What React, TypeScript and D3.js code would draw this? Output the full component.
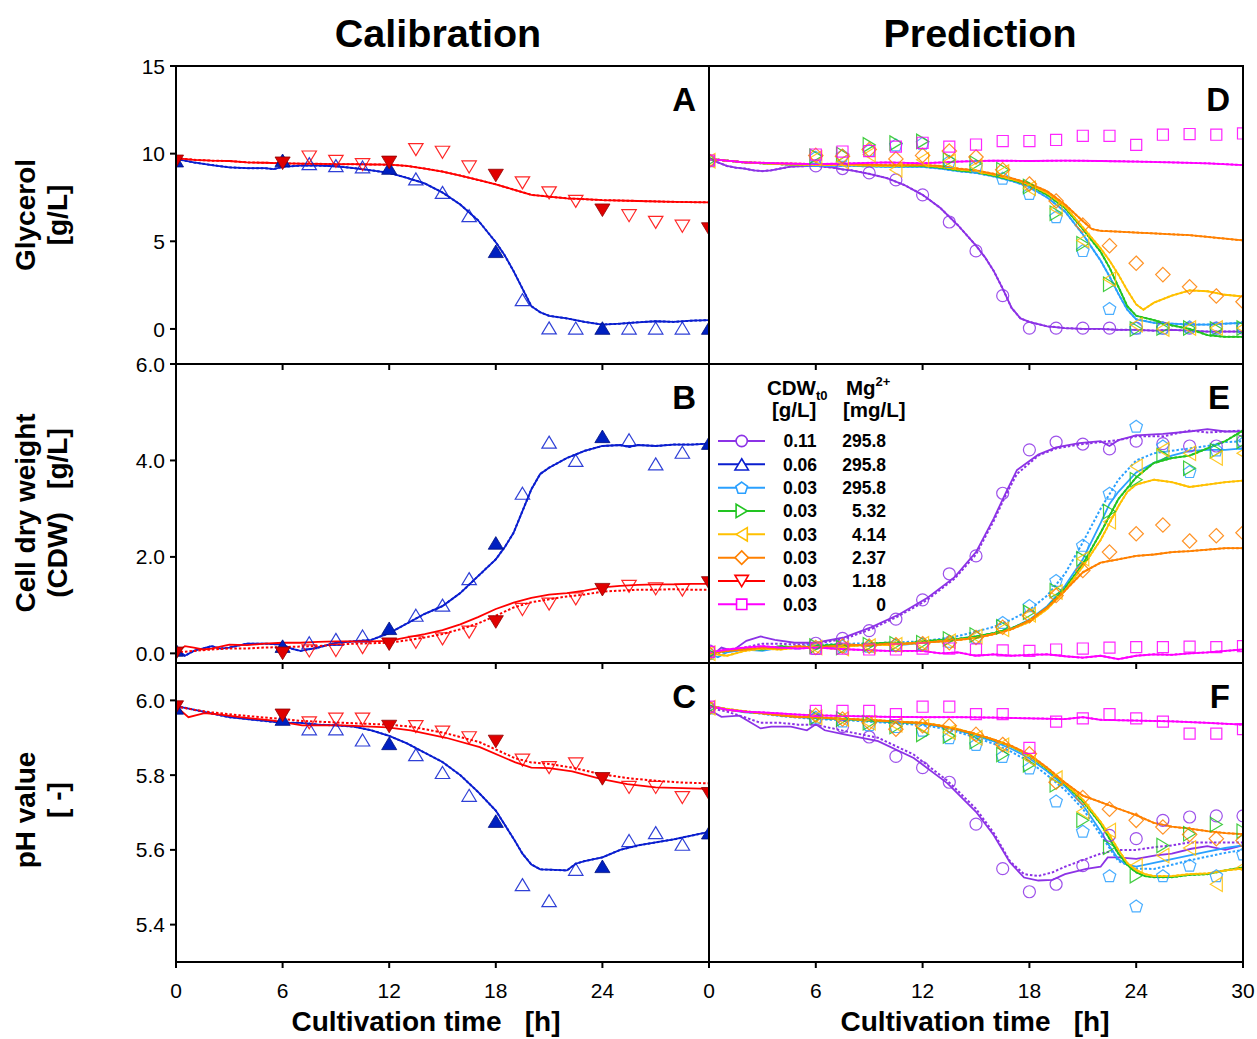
import React from "react";
import * as d3 from "d3";

// sampling times [h]; filled markers in calibration panels at the calibration times
const sampleTimes = [0, 6, 7.5, 9, 10.5, 12, 13.5, 15, 16.5, 18, 19.5, 21, 22.5, 24, 25.5, 27, 28.5, 30];
const calibTimes = [0, 6, 12, 18, 24, 30];

const xTicks = [0, 6, 12, 18, 24, 30];
const glycTicks = [0, 5, 10, 15];
const cdwTicks = [0, 2, 4, 6];
const phTicks = [5.4, 5.6, 5.8, 6.0];

const legendCdw = ["0.11", "0.06", "0.03", "0.03", "0.03", "0.03", "0.03", "0.03"];
const legendMg = ["295.8", "295.8", "295.8", "5.32", "4.14", "2.37", "1.18", "0"];

// ---------- calibration (0.06 g/L / 295.8 mg/L = blue, 0.03 / 1.18 = red)
const blueGlycObs = [9.6, 9.62, 9.43, 9.32, 9.24, 9.18, 8.56, 7.79, 6.46, 4.43, 1.67, 0.06, 0.05, 0.05, 0.05, 0.05, 0.05, 0.05];
const redGlycObs = [9.56, 9.45, 9.81, 9.56, 9.37, 9.5, 10.23, 10.08, 9.24, 8.75, 8.33, 7.76, 7.28, 6.77, 6.46, 6.08, 5.86, 5.7];
const blueGlycSim: [number, number][] = [[0, 9.7], [0.5, 9.6], [1, 9.5], [2, 9.35], [3, 9.22], [4, 9.17], [5, 9.17], [5.5, 9.12], [6, 9.25], [7, 9.32], [8, 9.32], [9, 9.28], [10, 9.18], [11, 9.05], [12, 8.9], [13, 8.62], [14, 8.3], [15, 7.78], [16, 7.1], [17, 6.2], [18, 4.95], [18.5, 4.2], [19, 3.3], [19.5, 2.3], [20, 1.3], [20.5, 0.95], [21, 0.75], [22, 0.6], [23, 0.4], [24, 0.25], [25, 0.3], [26, 0.38], [27, 0.44], [28, 0.4], [29, 0.47], [30, 0.5]];
const redGlycSim: [number, number][] = [[0, 9.75], [1, 9.65], [2, 9.6], [3, 9.58], [4, 9.5], [5, 9.48], [6, 9.45], [7, 9.43], [8, 9.42], [9, 9.4], [10, 9.4], [11, 9.38], [12, 9.37], [13, 9.3], [14, 9.15], [15, 8.98], [16, 8.75], [17, 8.5], [18, 8.25], [19, 7.95], [20, 7.65], [21, 7.55], [22, 7.45], [23, 7.4], [24, 7.35], [26, 7.3], [28, 7.25], [30, 7.22]];

const blueCdwObs = [0.07, 0.15, 0.22, 0.29, 0.36, 0.52, 0.79, 1.0, 1.55, 2.29, 3.32, 4.38, 4.0, 4.5, 4.43, 3.93, 4.17, 4.36];
const redCdwObs = [0.0, 0.0, 0.05, 0.06, 0.12, 0.19, 0.23, 0.3, 0.44, 0.65, 0.91, 1.02, 1.13, 1.32, 1.39, 1.34, 1.31, 1.46];
const blueCdwSim: [number, number][] = [[0, 0.1], [0.5, -0.05], [1, 0.05], [2, 0.15], [2.5, 0.1], [3, 0.12], [4, 0.2], [5, 0.2], [6, 0.18], [6.5, 0.1], [7, 0.05], [8, 0.12], [9, 0.22], [10, 0.25], [11, 0.28], [12, 0.42], [13, 0.62], [14, 0.82], [15, 0.98], [16, 1.25], [17, 1.6], [18, 1.95], [18.5, 2.2], [19, 2.5], [19.5, 2.95], [20, 3.4], [20.5, 3.72], [21, 3.85], [22, 4.05], [23, 4.2], [24, 4.3], [25, 4.32], [25.5, 4.28], [26, 4.32], [27, 4.3], [28, 4.33], [29, 4.33], [30, 4.35]];
const redCdwSim: [number, number][] = [[0, 0.0], [0.5, 0.15], [1, 0.12], [1.5, 0.08], [2, 0.1], [3, 0.18], [4, 0.17], [5, 0.2], [6, 0.22], [7, 0.22], [8, 0.24], [9, 0.25], [10, 0.25], [11, 0.25], [12, 0.26], [13, 0.33], [14, 0.4], [15, 0.48], [16, 0.6], [17, 0.75], [18, 0.92], [19, 1.05], [20, 1.15], [21, 1.22], [22, 1.25], [23, 1.3], [24, 1.37], [25, 1.4], [26, 1.42], [27, 1.43], [28, 1.43], [29, 1.44], [30, 1.44]];
const redCdwSim2: [number, number][] = [[0, 0.02], [1, 0.05], [2, 0.08], [3, 0.1], [4, 0.1], [5, 0.12], [6, 0.13], [7, 0.14], [8, 0.15], [9, 0.18], [10, 0.2], [11, 0.21], [12, 0.22], [13, 0.27], [14, 0.33], [15, 0.4], [16, 0.5], [17, 0.62], [18, 0.78], [19, 0.95], [20, 1.06], [21, 1.12], [22, 1.18], [23, 1.22], [24, 1.28], [25, 1.3], [26, 1.32], [27, 1.32], [28, 1.33], [29, 1.32], [30, 1.32]];

const bluePhObs = [5.98, 5.95, 5.924, 5.924, 5.894, 5.885, 5.855, 5.807, 5.746, 5.677, 5.507, 5.464, 5.548, 5.556, 5.625, 5.646, 5.615, 5.646];
const redPhObs = [5.982, 5.96, 5.94, 5.95, 5.95, 5.93, 5.93, 5.915, 5.9, 5.89, 5.84, 5.82, 5.83, 5.79, 5.767, 5.767, 5.74, 5.75];
const bluePhSim: [number, number][] = [[0, 5.985], [0.5, 5.98], [1, 5.975], [2, 5.965], [3, 5.955], [4, 5.95], [5, 5.945], [6, 5.94], [7, 5.94], [8, 5.935], [9, 5.933], [10, 5.93], [11, 5.92], [12, 5.905], [13, 5.885], [14, 5.86], [15, 5.835], [16, 5.8], [17, 5.755], [18, 5.705], [19, 5.63], [19.5, 5.59], [20, 5.561], [20.5, 5.548], [21, 5.547], [22, 5.545], [22.5, 5.563], [23, 5.57], [24, 5.58], [25, 5.6], [26, 5.612], [27, 5.62], [28, 5.628], [29, 5.638], [30, 5.648]];
const redPhSim: [number, number][] = [[0, 5.984], [0.7, 5.955], [1.6, 5.966], [2.5, 5.962], [3.6, 5.955], [5.5, 5.946], [7.1, 5.933], [9.4, 5.933], [11.9, 5.928], [13.2, 5.92], [15.2, 5.9], [17.1, 5.875], [19.1, 5.834], [20, 5.82], [21, 5.819], [22.3, 5.81], [23.9, 5.79], [25.4, 5.776], [27, 5.767], [28.5, 5.765], [30, 5.763]];
const redPhSim2: [number, number][] = [[0, 5.984], [1, 5.975], [2, 5.968], [3.6, 5.96], [5.5, 5.952], [7.1, 5.945], [9.4, 5.94], [11.9, 5.935], [13.2, 5.93], [15.2, 5.912], [17.1, 5.888], [19.1, 5.845], [20, 5.834], [21, 5.83], [22.3, 5.82], [23.9, 5.803], [25.4, 5.792], [27, 5.785], [28.5, 5.78], [30, 5.778]];

// ---------- prediction, glycerol
const purpleGlycObs = [9.6, 9.3, 9.15, 8.9, 8.5, 7.65, 6.1, 4.45, 1.9, 0.05, 0.05, 0.05, 0.05, 0.05, 0.05, 0.05, 0.05, 0.05];
const lblueGlycObs = [9.6, 9.8, 9.9, 10.2, 10.5, 10.6, 9.55, 9.27, 8.6, 7.73, 6.4, 4.47, 1.17, 0.05, 0.05, 0.12, 0.05, 0.12];
const greenGlycObs = [9.6, 9.85, 9.95, 10.5, 10.6, 10.7, 9.65, 9.45, 9.08, 8.12, 6.6, 4.86, 2.55, 0.0, 0.05, 0.05, 0.0, 0.05];
const yellowGlycObs = [9.6, 9.75, 9.55, 9.95, 9.08, 9.65, 9.55, 9.25, 8.95, 8.02, 6.85, 5.05, 2.84, 0.24, 0.0, 0.05, 0.05, 0.05];
const orangeGlycObs = [9.6, 9.9, 9.85, 10.23, 9.7, 9.9, 10.15, 9.81, 9.08, 8.27, 7.3, 5.92, 4.75, 3.75, 3.1, 2.4, 1.88, 1.55];
const magentaGlycObs = [9.6, 9.95, 10.12, 10.15, 10.4, 10.62, 10.4, 10.52, 10.72, 10.72, 10.78, 11.02, 11.02, 10.5, 11.08, 11.12, 11.08, 11.15];
const purpleGlycSim: [number, number][] = [[0, 9.7], [0.5, 9.5], [1, 9.3], [1.5, 9.2], [2, 9.15], [2.5, 9.05], [3, 9.0], [3.5, 9.05], [4, 9.15], [4.5, 9.25], [5, 9.28], [6, 9.3], [7, 9.2], [7.5, 9.1], [8, 9.05], [9, 8.85], [10, 8.6], [11, 8.2], [12, 7.65], [13, 6.9], [14, 5.9], [15, 4.75], [15.5, 4.1], [16, 3.3], [16.5, 2.3], [17, 1.2], [17.5, 0.6], [18, 0.4], [19, 0.15], [20, 0.05], [21, 0.0], [22, 0.0], [23, -0.05], [24, -0.05], [25, -0.1], [26, -0.05], [27, -0.1], [28, -0.15], [29, -0.15], [30, -0.15]];
const lblueGlycSim: [number, number][] = [[0, 9.7], [2, 9.5], [4, 9.4], [6, 9.3], [8, 9.3], [10, 9.25], [12, 9.25], [13, 9.15], [14, 9.0], [15, 8.9], [16, 8.7], [17, 8.45], [18, 8.1], [19, 7.5], [20, 6.7], [21, 5.4], [22, 3.9], [22.5, 3.0], [23, 2.0], [23.5, 1.1], [24, 0.55], [25, 0.35], [26, 0.3], [27, 0.25], [28, 0.25], [29, 0.3], [30, 0.35]];
const greenGlycSim: [number, number][] = [[0, 9.7], [2, 9.5], [4, 9.4], [6, 9.35], [8, 9.35], [10, 9.3], [12, 9.3], [13, 9.2], [14, 9.05], [15, 8.95], [16, 8.75], [17, 8.5], [18, 8.2], [19, 7.65], [20, 6.9], [21, 5.7], [22, 4.4], [22.5, 3.5], [23, 2.4], [23.5, 1.3], [24, 0.75], [25, 0.5], [26, 0.2], [27, 0.0], [28, -0.35], [29, -0.45], [30, -0.45]];
const yellowGlycSim: [number, number][] = [[0, 9.7], [2, 9.5], [4, 9.4], [6, 9.35], [8, 9.35], [10, 9.3], [12, 9.35], [13, 9.25], [14, 9.1], [15, 9.0], [16, 8.8], [17, 8.55], [18, 8.25], [19, 7.75], [20, 7.0], [21, 5.8], [22, 4.6], [22.5, 3.9], [23, 3.1], [23.5, 2.2], [24, 1.4], [24.4, 1.1], [25, 1.5], [26, 1.9], [27, 2.2], [28, 2.15], [29, 1.95], [30, 1.85]];
const orangeGlycSim: [number, number][] = [[0, 9.7], [2, 9.5], [4, 9.45], [6, 9.4], [8, 9.4], [10, 9.35], [12, 9.35], [13, 9.3], [14, 9.15], [15, 9.05], [16, 8.85], [17, 8.6], [18, 8.3], [19, 7.85], [20, 7.1], [21, 6.15], [21.5, 5.7], [22, 5.6], [23, 5.55], [24, 5.5], [25, 5.45], [26, 5.4], [27, 5.35], [28, 5.25], [29, 5.15], [30, 5.05]];
const magentaGlycSim: [number, number][] = [[0, 9.7], [2, 9.5], [4, 9.45], [6, 9.4], [8, 9.45], [10, 9.5], [12, 9.45], [14, 9.55], [16, 9.6], [18, 9.58], [20, 9.6], [22, 9.58], [24, 9.55], [26, 9.5], [28, 9.45], [30, 9.35]];

// ---------- prediction, cell dry weight
const purpleCdwObs = [0.05, 0.21, 0.31, 0.47, 0.71, 1.11, 1.65, 2.02, 3.32, 4.22, 4.38, 4.34, 4.24, 4.4, 4.35, 4.3, 4.3, 4.4];
const lblueCdwObs = [0.0, 0.1, 0.15, 0.15, 0.18, 0.2, 0.25, 0.33, 0.64, 0.99, 1.51, 2.24, 3.32, 4.71, 4.3, 3.77, 4.22, 4.36];
const greenCdwObs = [0.0, 0.15, 0.12, 0.18, 0.2, 0.22, 0.3, 0.38, 0.55, 0.85, 1.3, 1.96, 2.94, 3.6, 4.1, 3.84, 4.2, 4.4];
const yellowCdwObs = [0.0, 0.12, 0.1, 0.15, 0.18, 0.2, 0.25, 0.35, 0.5, 0.8, 1.27, 1.96, 2.73, 3.88, 4.22, 4.15, 4.05, 4.15];
const orangeCdwObs = [0.0, 0.12, 0.15, 0.15, 0.18, 0.2, 0.22, 0.33, 0.54, 0.78, 1.2, 1.72, 2.1, 2.48, 2.66, 2.33, 2.44, 2.5];
const magentaCdwObs = [0.03, 0.1, 0.1, 0.08, 0.08, 0.1, 0.1, 0.08, 0.06, 0.05, 0.08, 0.1, 0.12, 0.13, 0.13, 0.14, 0.13, 0.15];
const purpleCdwSim: [number, number][] = [[0, -0.1], [0.7, 0.12], [1.3, 0.05], [2.1, 0.26], [2.9, 0.35], [3.7, 0.28], [4.8, 0.22], [6, 0.22], [7.6, 0.33], [9.1, 0.54], [10.7, 0.81], [12.3, 1.16], [13.8, 1.58], [15, 2.1], [16, 2.8], [16.7, 3.35], [17.3, 3.8], [18.5, 4.12], [19.5, 4.27], [20.8, 4.36], [22, 4.4], [22.5, 4.3], [23, 4.42], [24, 4.52], [25.5, 4.55], [27, 4.6], [28, 4.65], [29, 4.6], [30, 4.6]];
const purpleCdwSim2: [number, number][] = [[0, -0.05], [1, 0.05], [2, 0.12], [3, 0.2], [4, 0.2], [5, 0.18], [6, 0.2], [7.6, 0.3], [9.1, 0.5], [10.7, 0.78], [12.3, 1.12], [13.8, 1.55], [15, 2.05], [16, 2.75], [16.7, 3.3], [17.3, 3.72], [18.5, 4.1], [19.5, 4.25], [20.8, 4.33], [22, 4.38], [23, 4.42], [24, 4.5], [25.5, 4.5], [27, 4.62], [28, 4.58], [29, 4.6], [30, 4.62]];
const lblueCdwSim: [number, number][] = [[0, 0.0], [0.5, -0.08], [1, 0.02], [2, 0.08], [3, 0.05], [4, 0.12], [5, 0.1], [6, 0.15], [7, 0.12], [8, 0.18], [9, 0.15], [10, 0.2], [11, 0.18], [12, 0.22], [13, 0.25], [14, 0.3], [15, 0.35], [16, 0.42], [17, 0.52], [18, 0.7], [19, 0.98], [20, 1.4], [21, 1.95], [22, 2.7], [22.5, 3.1], [23, 3.35], [24, 3.75], [25, 3.95], [26, 4.1], [27, 4.2], [28, 4.22], [29, 4.22], [30, 4.25]];
const lblueCdwSim2: [number, number][] = [[0, 0.0], [2, 0.08], [4, 0.12], [6, 0.18], [8, 0.2], [10, 0.22], [12, 0.25], [13, 0.3], [14, 0.36], [15, 0.45], [16, 0.55], [17, 0.7], [18, 0.9], [19, 1.2], [20, 1.65], [21, 2.3], [22, 3.0], [23, 3.6], [24, 4.0], [25, 4.15], [26, 4.2], [27, 4.25], [28, 4.3], [29, 4.38], [30, 4.4]];
const greenCdwSim: [number, number][] = [[0, 0.0], [1, 0.05], [2, 0.1], [3, 0.08], [4, 0.15], [5, 0.12], [6, 0.15], [7, 0.18], [8, 0.15], [9, 0.2], [10, 0.22], [11, 0.2], [12, 0.25], [13, 0.28], [14, 0.3], [15, 0.35], [16, 0.42], [17, 0.52], [18, 0.68], [19, 0.95], [20, 1.35], [21, 1.85], [22, 2.5], [22.5, 2.85], [23, 3.2], [24, 3.65], [25, 3.95], [26, 4.05], [27, 4.1], [28, 4.25], [29, 4.4], [30, 4.62]];
const yellowCdwSim: [number, number][] = [[0, 0.0], [1, -0.05], [2, 0.05], [3, 0.1], [4, 0.08], [5, 0.12], [6, 0.13], [7, 0.1], [8, 0.15], [9, 0.18], [10, 0.17], [11, 0.2], [12, 0.22], [13, 0.25], [14, 0.28], [15, 0.32], [16, 0.4], [17, 0.5], [18, 0.65], [19, 0.92], [20, 1.3], [21, 1.8], [22, 2.35], [22.5, 2.7], [23, 3.05], [23.5, 3.35], [24, 3.5], [25, 3.6], [26, 3.55], [27, 3.45], [28, 3.5], [29, 3.55], [30, 3.58]];
const orangeCdwSim: [number, number][] = [[0, 0.0], [1, 0.05], [2, 0.08], [3, 0.12], [4, 0.1], [5, 0.15], [6, 0.12], [7, 0.15], [8, 0.18], [9, 0.16], [10, 0.2], [11, 0.2], [12, 0.22], [13, 0.25], [14, 0.28], [15, 0.32], [16, 0.4], [17, 0.5], [18, 0.68], [19, 0.95], [20, 1.3], [21, 1.68], [22, 1.88], [23, 1.95], [24, 2.02], [25, 2.05], [26, 2.1], [27, 2.12], [28, 2.15], [29, 2.18], [30, 2.18]];
const magentaCdwSim: [number, number][] = [[0, 0.02], [1, 0.08], [2, 0.12], [3, 0.15], [4, 0.12], [5, 0.1], [6, 0.12], [8, 0.08], [10, 0.05], [12, 0.05], [13, 0.0], [14, 0.02], [15, -0.05], [16, -0.02], [17, -0.05], [18, -0.03], [19, -0.02], [20, -0.06], [21, -0.09], [22, -0.05], [23, -0.12], [24, -0.05], [25, -0.02], [26, -0.03], [27, 0.0], [28, 0.02], [29, 0.05], [30, 0.08]];

// ---------- prediction, pH
const purplePhObs = [5.98, 5.95, 5.93, 5.902, 5.85, 5.82, 5.781, 5.669, 5.55, 5.488, 5.508, 5.558, 5.639, 5.63, 5.679, 5.688, 5.691, 5.691];
const lbluePhObs = [5.98, 5.955, 5.945, 5.935, 5.93, 5.92, 5.9, 5.882, 5.85, 5.819, 5.731, 5.65, 5.531, 5.45, 5.531, 5.559, 5.531, 5.589];
const greenPhObs = [5.98, 5.955, 5.95, 5.94, 5.93, 5.909, 5.905, 5.89, 5.855, 5.828, 5.774, 5.679, 5.607, 5.531, 5.612, 5.643, 5.668, 5.65];
const yellowPhObs = [5.98, 5.955, 5.95, 5.94, 5.935, 5.93, 5.915, 5.9, 5.88, 5.844, 5.792, 5.702, 5.652, 5.558, 5.585, 5.605, 5.508, 5.553];
const orangePhObs = [5.98, 5.96, 5.95, 5.94, 5.923, 5.932, 5.932, 5.909, 5.882, 5.857, 5.781, 5.74, 5.709, 5.679, 5.661, 5.641, 5.63, 5.625];
const magentaPhObs = [5.983, 5.972, 5.972, 5.972, 5.963, 5.983, 5.983, 5.963, 5.963, 5.873, 5.943, 5.952, 5.963, 5.952, 5.943, 5.911, 5.911, 5.923];
const purplePhSim: [number, number][] = [[0, 5.975], [0.7, 5.956], [1.7, 5.959], [2.9, 5.925], [3.5, 5.93], [4.6, 5.93], [5.5, 5.92], [6, 5.936], [6.5, 5.92], [7.6, 5.909], [9.5, 5.891], [11.5, 5.846], [13.4, 5.778], [15, 5.702], [16, 5.639], [16.9, 5.567], [17.7, 5.526], [18.5, 5.518], [19.3, 5.52], [20, 5.535], [21.2, 5.549], [22, 5.555], [22.4, 5.58], [23, 5.58], [24, 5.576], [25.1, 5.585], [26, 5.59], [27.1, 5.603], [28, 5.61], [29, 5.6], [30, 5.612]];
const purplePhSim2: [number, number][] = [[0, 5.98], [1, 5.97], [2, 5.955], [2.9, 5.94], [4, 5.94], [5, 5.935], [6, 5.935], [7.6, 5.918], [9.5, 5.9], [11.5, 5.855], [13.4, 5.785], [15, 5.71], [16, 5.645], [16.9, 5.57], [17.7, 5.535], [18.5, 5.53], [19.3, 5.54], [20, 5.555], [21.2, 5.576], [22, 5.59], [23, 5.6], [24, 5.6], [25, 5.607], [26, 5.612], [27, 5.62], [28, 5.62], [29, 5.62], [30, 5.62]];
const lbluePhSim: [number, number][] = [[0, 5.985], [1, 5.975], [2, 5.968], [3, 5.965], [4, 5.96], [5, 5.955], [6, 5.952], [7, 5.95], [8, 5.948], [9, 5.945], [10, 5.942], [11, 5.94], [12, 5.937], [13, 5.93], [14, 5.92], [15, 5.905], [16, 5.89], [17, 5.87], [18, 5.845], [19, 5.81], [20, 5.77], [21, 5.72], [21.5, 5.685], [22, 5.65], [22.5, 5.61], [23, 5.575], [23.5, 5.56], [24, 5.555], [25, 5.565], [26, 5.575], [27, 5.585], [28, 5.595], [29, 5.605], [30, 5.612]];
const lbluePhSim2: [number, number][] = [[0, 5.985], [2, 5.97], [4, 5.958], [6, 5.95], [8, 5.946], [10, 5.94], [12, 5.934], [13, 5.926], [14, 5.915], [15, 5.9], [16, 5.884], [17, 5.862], [18, 5.836], [19, 5.8], [20, 5.76], [21, 5.71], [22, 5.64], [23, 5.57], [24, 5.55], [25, 5.549], [26, 5.56], [27, 5.572], [28, 5.582], [29, 5.592], [30, 5.6]];
const greenPhSim: [number, number][] = [[0, 5.985], [1, 5.976], [2, 5.97], [3, 5.966], [4, 5.96], [5, 5.956], [6, 5.954], [7, 5.951], [8, 5.949], [9, 5.946], [10, 5.944], [11, 5.941], [12, 5.939], [13, 5.932], [14, 5.922], [15, 5.909], [16, 5.894], [17, 5.876], [18, 5.852], [19, 5.816], [20, 5.776], [21, 5.73], [21.5, 5.7], [22, 5.67], [22.5, 5.63], [23, 5.59], [23.5, 5.56], [24, 5.54], [24.5, 5.53], [25, 5.527], [26, 5.527], [27, 5.533], [28, 5.535], [29, 5.545], [30, 5.553]];
const yellowPhSim: [number, number][] = [[0, 5.985], [1, 5.977], [2, 5.971], [3, 5.966], [4, 5.961], [5, 5.957], [6, 5.955], [7, 5.952], [8, 5.95], [9, 5.947], [10, 5.945], [11, 5.942], [12, 5.94], [13, 5.933], [14, 5.923], [15, 5.91], [16, 5.895], [17, 5.877], [18, 5.853], [19, 5.818], [20, 5.778], [21, 5.735], [21.5, 5.705], [22, 5.675], [22.5, 5.64], [23, 5.6], [23.5, 5.565], [24, 5.545], [24.5, 5.535], [25, 5.53], [26, 5.53], [27, 5.535], [28, 5.537], [29, 5.545], [30, 5.55]];
const orangePhSim: [number, number][] = [[0, 5.985], [1, 5.975], [2, 5.97], [3, 5.965], [4, 5.96], [5, 5.955], [6, 5.955], [7, 5.952], [8, 5.95], [9, 5.948], [10, 5.945], [11, 5.942], [12, 5.94], [13, 5.932], [14, 5.922], [15, 5.91], [16, 5.895], [17, 5.878], [18, 5.855], [19, 5.82], [20, 5.78], [21, 5.745], [22, 5.728], [23, 5.71], [24, 5.693], [25, 5.672], [26, 5.662], [27, 5.657], [28, 5.65], [29, 5.645], [30, 5.642]];
const magentaPhSim: [number, number][] = [[0, 5.985], [1, 5.975], [2, 5.97], [3, 5.968], [4, 5.965], [5, 5.962], [6, 5.96], [8, 5.958], [10, 5.956], [12, 5.955], [14, 5.955], [16, 5.954], [18, 5.952], [20, 5.95], [21, 5.955], [22, 5.948], [24, 5.946], [26, 5.944], [28, 5.94], [30, 5.935]];

// ---------- colours
const cPurple = "#8c32e6";
const cBlue = "#0a1ecf";
const cLblue = "#2aa0ff";
const cGreen = "#22c422";
const cYellow = "#ffc000";
const cOrange = "#ff8000";
const cRed = "#ff0000";
const cMagenta = "#ff00ff";

type Shape = "circle" | "up" | "down" | "left" | "right" | "square" | "diamond" | "pentagon";
type Series = {
  color: string;
  shape: Shape;
  obs: number[];
  sim: [number, number][];
  sim2: [number, number][];
  calib?: boolean;
};

const legendSeries: { color: string; shape: Shape }[] = [
  { color: cPurple, shape: "circle" },
  { color: cBlue, shape: "up" },
  { color: cLblue, shape: "pentagon" },
  { color: cGreen, shape: "right" },
  { color: cYellow, shape: "left" },
  { color: cOrange, shape: "diamond" },
  { color: cRed, shape: "down" },
  { color: cMagenta, shape: "square" },
];

const FONT = "'Liberation Sans', Arial, Helvetica, sans-serif";
const NB = "\u00a0";

function shapePath(shape: Shape, s: number): string {
  const poly = (p: number[][]) => "M" + p.map((q) => q[0].toFixed(2) + "," + q[1].toFixed(2)).join("L") + "Z";
  switch (shape) {
    case "circle":
      return `M${s},0A${s},${s},0,1,1,${-s},0A${s},${s},0,1,1,${s},0Z`;
    case "up":
      return poly([[0, -s], [1.2 * s, s], [-1.2 * s, s]]);
    case "down":
      return poly([[0, s], [1.2 * s, -s], [-1.2 * s, -s]]);
    case "right":
      return poly([[s, 0], [-s, -1.2 * s], [-s, 1.2 * s]]);
    case "left":
      return poly([[-s, 0], [s, -1.2 * s], [s, 1.2 * s]]);
    case "square":
      return poly([[-0.92 * s, -0.92 * s], [0.92 * s, -0.92 * s], [0.92 * s, 0.92 * s], [-0.92 * s, 0.92 * s]]);
    case "diamond":
      return poly([[0, -1.2 * s], [1.2 * s, 0], [0, 1.2 * s], [-1.2 * s, 0]]);
    case "pentagon":
      return poly(d3.range(5).map((i) => {
        const a = -Math.PI / 2 + (i * 2 * Math.PI) / 5;
        return [1.1 * s * Math.cos(a), 1.1 * s * Math.sin(a) + 0.1 * s];
      }));
  }
}

// geometry
const cols = [
  { left: 176, right: 709 },
  { left: 709, right: 1243 },
];
const rows = [
  { top: 66, bottom: 364, domain: [-2, 15], ticks: glycTicks, fmt: d3.format("d") },
  { top: 364, bottom: 663, domain: [-0.2, 6], ticks: cdwTicks, fmt: d3.format(".1f") },
  { top: 663, bottom: 962, domain: [5.3, 6.1], ticks: phTicks, fmt: d3.format(".1f") },
];

const calibGlyc: Series[] = [
  { color: cBlue, shape: "up", obs: blueGlycObs, sim: blueGlycSim, sim2: blueGlycSim, calib: true },
  { color: cRed, shape: "down", obs: redGlycObs, sim: redGlycSim, sim2: redGlycSim, calib: true },
];
const calibCdw: Series[] = [
  { color: cBlue, shape: "up", obs: blueCdwObs, sim: blueCdwSim, sim2: blueCdwSim, calib: true },
  { color: cRed, shape: "down", obs: redCdwObs, sim: redCdwSim, sim2: redCdwSim2, calib: true },
];
const calibPh: Series[] = [
  { color: cBlue, shape: "up", obs: bluePhObs, sim: bluePhSim, sim2: bluePhSim, calib: true },
  { color: cRed, shape: "down", obs: redPhObs, sim: redPhSim, sim2: redPhSim2, calib: true },
];
const predGlyc: Series[] = [
  { color: cPurple, shape: "circle", obs: purpleGlycObs, sim: purpleGlycSim, sim2: purpleGlycSim },
  { color: cLblue, shape: "pentagon", obs: lblueGlycObs, sim: lblueGlycSim, sim2: lblueGlycSim },
  { color: cGreen, shape: "right", obs: greenGlycObs, sim: greenGlycSim, sim2: greenGlycSim },
  { color: cYellow, shape: "left", obs: yellowGlycObs, sim: yellowGlycSim, sim2: yellowGlycSim },
  { color: cOrange, shape: "diamond", obs: orangeGlycObs, sim: orangeGlycSim, sim2: orangeGlycSim },
  { color: cMagenta, shape: "square", obs: magentaGlycObs, sim: magentaGlycSim, sim2: magentaGlycSim },
];
const predCdw: Series[] = [
  { color: cPurple, shape: "circle", obs: purpleCdwObs, sim: purpleCdwSim, sim2: purpleCdwSim2 },
  { color: cLblue, shape: "pentagon", obs: lblueCdwObs, sim: lblueCdwSim, sim2: lblueCdwSim2 },
  { color: cGreen, shape: "right", obs: greenCdwObs, sim: greenCdwSim, sim2: greenCdwSim },
  { color: cYellow, shape: "left", obs: yellowCdwObs, sim: yellowCdwSim, sim2: yellowCdwSim },
  { color: cOrange, shape: "diamond", obs: orangeCdwObs, sim: orangeCdwSim, sim2: orangeCdwSim },
  { color: cMagenta, shape: "square", obs: magentaCdwObs, sim: magentaCdwSim, sim2: magentaCdwSim },
];
const predPh: Series[] = [
  { color: cPurple, shape: "circle", obs: purplePhObs, sim: purplePhSim, sim2: purplePhSim2 },
  { color: cLblue, shape: "pentagon", obs: lbluePhObs, sim: lbluePhSim, sim2: lbluePhSim2 },
  { color: cGreen, shape: "right", obs: greenPhObs, sim: greenPhSim, sim2: greenPhSim },
  { color: cYellow, shape: "left", obs: yellowPhObs, sim: yellowPhSim, sim2: yellowPhSim },
  { color: cOrange, shape: "diamond", obs: orangePhObs, sim: orangePhSim, sim2: orangePhSim },
  { color: cMagenta, shape: "square", obs: magentaPhObs, sim: magentaPhSim, sim2: magentaPhSim },
];

const panels = [
  { col: 0, row: 0, letter: "A", series: calibGlyc },
  { col: 0, row: 1, letter: "B", series: calibCdw },
  { col: 0, row: 2, letter: "C", series: calibPh },
  { col: 1, row: 0, letter: "D", series: predGlyc },
  { col: 1, row: 1, letter: "E", series: predCdw },
  { col: 1, row: 2, letter: "F", series: predPh },
];

function Panel({ col, row, letter, series }: { col: number; row: number; letter: string; series: Series[] }) {
  const c = cols[col];
  const r = rows[row];
  const x = d3.scaleLinear().domain([0, 30]).range([c.left, c.right]);
  const y = d3.scaleLinear().domain(r.domain).range([r.bottom, r.top]);
  const line = d3.line<[number, number]>().x((d) => x(d[0])).y((d) => y(d[1]));
  const clipId = `clip-${letter}`;
  return (
    <g>
      <clipPath id={clipId}>
        <rect x={c.left} y={r.top} width={c.right - c.left} height={r.bottom - r.top} />
      </clipPath>
      <g clipPath={`url(#${clipId})`}>
        {series.map((s, i) => (
          <g key={"l" + i}>
            <path d={line(s.sim2) || ""} fill="none" stroke={s.color} strokeWidth={2} strokeDasharray="2.5,2" />
            <path d={line(s.sim) || ""} fill="none" stroke={s.color} strokeWidth={1.8} />
          </g>
        ))}
        {series.map((s, i) => (
          <g key={"m" + i}>
            {s.obs.map((v, j) => {
              const t = sampleTimes[j];
              const filled = s.calib && calibTimes.includes(t);
              if (filled) return null;
              return (
                <path key={j} d={shapePath(s.shape, 6)} transform={`translate(${x(t)},${y(v)})`}
                  fill="none" stroke={s.color} strokeWidth={1.2} strokeOpacity={0.85} />
              );
            })}
          </g>
        ))}
        {series.map((s, i) => (
          <g key={"f" + i}>
            {s.calib && s.obs.map((v, j) => {
              const t = sampleTimes[j];
              if (!calibTimes.includes(t)) return null;
              return (
                <path key={j} d={shapePath(s.shape, 6.3)} transform={`translate(${x(t)},${y(v)})`}
                  fill={s.color === cRed ? "#e00000" : "#0020c0"} stroke={s.color === cRed ? "#900000" : "#001080"} strokeWidth={0.8} />
              );
            })}
          </g>
        ))}
      </g>
      <rect x={c.left} y={r.top} width={c.right - c.left} height={r.bottom - r.top} fill="none" stroke="#000" strokeWidth={2} />
      {xTicks.map((t) => (
        <line key={t} x1={x(t)} x2={x(t)} y1={r.bottom} y2={r.bottom + 6} stroke="#000" strokeWidth={2} />
      ))}
      {col === 0 && r.ticks.map((v) => (
        <g key={v}>
          <line x1={c.left - 6} x2={c.left} y1={y(v)} y2={y(v)} stroke="#000" strokeWidth={2} />
          <text x={c.left - 11} y={y(v)} dy="0.36em" textAnchor="end" fontSize={21} fontFamily={FONT}>{r.fmt(v)}</text>
        </g>
      ))}
      {row === 2 && xTicks.filter((t) => col === 1 || t < 30).map((t) => (
        <text key={"xl" + t} x={x(t)} y={998} textAnchor="middle" fontSize={21} fontFamily={FONT}>{String(t)}</text>
      ))}
      <text x={c.right - 13} y={r.top + 45} textAnchor="end" fontSize={33} fontWeight="bold" fontFamily={FONT}>{letter}</text>
    </g>
  );
}

function Legend() {
  const rowY = d3.scaleLinear().domain([0, 7]).range([441, 604.3]);
  return (
    <g fontFamily={FONT} fontWeight="bold">
      <text x={767} y={395} fontSize={20.5}>CDW<tspan fontSize={13} dy={5}>t0</tspan></text>
      <text x={846} y={395} fontSize={20.5}>Mg<tspan fontSize={13} dy={-9}>2+</tspan></text>
      <text x={772} y={417} fontSize={20.5}>[g/L]</text>
      <text x={843} y={417} fontSize={20.5}>[mg/L]</text>
      {legendSeries.map((s, i) => (
        <g key={i}>
          <line x1={718} x2={765} y1={rowY(i)} y2={rowY(i)} stroke={s.color} strokeWidth={2} />
          <path d={shapePath(s.shape, 5.6)} transform={`translate(741.7,${rowY(i)})`} fill="#fff" stroke={s.color} strokeWidth={1.6} />
          <text x={800} y={rowY(i)} dy="0.36em" textAnchor="middle" fontSize={17.5}>{legendCdw[i]}</text>
          <text x={886} y={rowY(i)} dy="0.36em" textAnchor="end" fontSize={17.5}>{legendMg[i]}</text>
        </g>
      ))}
    </g>
  );
}

export default function App() {
  const xLabel = `Cultivation time${NB}${NB}${NB}[h]`;
  return (
    <svg width={1257} height={1039} style={{ position: "absolute", left: 0, top: 0, background: "#fff" }} fontFamily={FONT}>
      <rect width={1257} height={1039} fill="#fff" />
      <text x={438} y={47} textAnchor="middle" fontSize={39.5} fontWeight="bold">Calibration</text>
      <text x={980} y={47} textAnchor="middle" fontSize={39.5} fontWeight="bold">Prediction</text>
      {panels.map((p) => (
        <Panel key={p.letter} {...p} />
      ))}
      <Legend />
      <g fontWeight="bold" fontSize={28} textAnchor="middle">
        <text transform="translate(35,215) rotate(-90)">Glycerol</text>
        <text transform="translate(67,215) rotate(-90)">[g/L]</text>
        <text transform="translate(35,513) rotate(-90)">Cell dry weight</text>
        <text transform="translate(67,513) rotate(-90)">{`(CDW)${NB}${NB}${NB}[g/L]`}</text>
        <text transform="translate(35,810) rotate(-90)">pH value</text>
        <text transform="translate(67,800) rotate(-90)">{`[${NB}-]`}</text>
        <text x={426} y={1031}>{xLabel}</text>
        <text x={975} y={1031}>{xLabel}</text>
      </g>
    </svg>
  );
}
